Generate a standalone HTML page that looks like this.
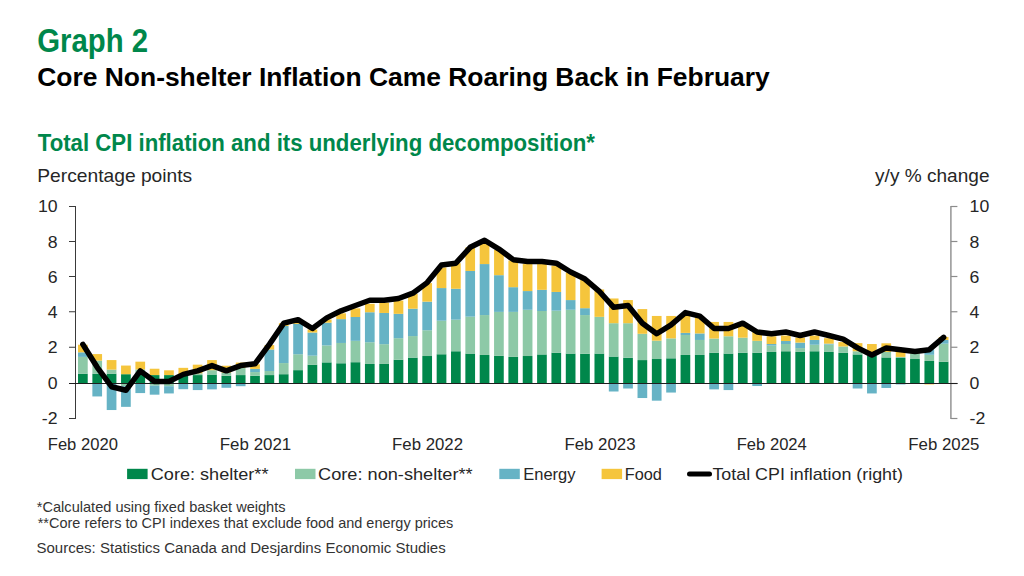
<!DOCTYPE html><html><head><meta charset="utf-8"><style>html,body{margin:0;padding:0;background:#fff;overflow:hidden}svg{display:block}text{font-family:"Liberation Sans",sans-serif}</style></head><body>
<svg width="1024" height="576" viewBox="0 0 1024 576">
<rect width="1024" height="576" fill="#fff"/>
<text x="37.3" y="51.8" font-size="33" fill="#00874b" font-weight="700" textLength="110.81" lengthAdjust="spacingAndGlyphs">Graph 2</text>
<text x="37.25" y="85.9" font-size="26.5" fill="#000" font-weight="700" textLength="732.48" lengthAdjust="spacingAndGlyphs">Core Non-shelter Inflation Came Roaring Back in February</text>
<text x="37.75" y="150.5" font-size="23" fill="#00874b" font-weight="700" textLength="557.19" lengthAdjust="spacingAndGlyphs">Total CPI inflation and its underlying decomposition*</text>
<text x="37.3" y="182.0" font-size="18.6" fill="#262626" textLength="154.92" lengthAdjust="spacingAndGlyphs">Percentage points</text>
<text x="875.1" y="182.0" font-size="18.9" fill="#262626" textLength="114.43" lengthAdjust="spacingAndGlyphs">y/y % change</text>
<rect x="78.02" y="373.67" width="9.7" height="9.53" fill="#00874b"/>
<rect x="78.02" y="356.90" width="9.7" height="16.77" fill="#8dc9a7"/>
<rect x="78.02" y="352.31" width="9.7" height="4.59" fill="#66b3c5"/>
<rect x="78.02" y="344.72" width="9.7" height="7.59" fill="#f5c53c"/>
<rect x="92.37" y="373.67" width="9.7" height="9.53" fill="#00874b"/>
<rect x="92.37" y="360.61" width="9.7" height="13.06" fill="#8dc9a7"/>
<rect x="92.37" y="383.20" width="9.7" height="13.24" fill="#66b3c5"/>
<rect x="92.37" y="354.08" width="9.7" height="6.53" fill="#f5c53c"/>
<rect x="106.72" y="373.67" width="9.7" height="9.53" fill="#00874b"/>
<rect x="106.72" y="369.61" width="9.7" height="4.06" fill="#8dc9a7"/>
<rect x="106.72" y="383.20" width="9.7" height="26.83" fill="#66b3c5"/>
<rect x="106.72" y="360.08" width="9.7" height="9.53" fill="#f5c53c"/>
<rect x="121.06" y="374.20" width="9.7" height="9.00" fill="#00874b"/>
<rect x="121.06" y="383.20" width="9.7" height="3.00" fill="#8dc9a7"/>
<rect x="121.06" y="386.20" width="9.7" height="20.65" fill="#66b3c5"/>
<rect x="121.06" y="365.55" width="9.7" height="8.65" fill="#f5c53c"/>
<rect x="135.41" y="374.38" width="9.7" height="8.82" fill="#00874b"/>
<rect x="135.41" y="369.43" width="9.7" height="4.94" fill="#8dc9a7"/>
<rect x="135.41" y="383.20" width="9.7" height="9.88" fill="#66b3c5"/>
<rect x="135.41" y="361.67" width="9.7" height="7.77" fill="#f5c53c"/>
<rect x="149.75" y="375.08" width="9.7" height="8.12" fill="#00874b"/>
<rect x="149.75" y="383.20" width="9.7" height="2.47" fill="#8dc9a7"/>
<rect x="149.75" y="385.67" width="9.7" height="9.00" fill="#66b3c5"/>
<rect x="149.75" y="368.73" width="9.7" height="6.35" fill="#f5c53c"/>
<rect x="164.10" y="375.08" width="9.7" height="8.12" fill="#00874b"/>
<rect x="164.10" y="383.20" width="9.7" height="3.00" fill="#8dc9a7"/>
<rect x="164.10" y="386.20" width="9.7" height="7.24" fill="#66b3c5"/>
<rect x="164.10" y="370.32" width="9.7" height="4.77" fill="#f5c53c"/>
<rect x="178.45" y="375.61" width="9.7" height="7.59" fill="#00874b"/>
<rect x="178.45" y="383.20" width="9.7" height="6.00" fill="#66b3c5"/>
<rect x="178.45" y="367.84" width="9.7" height="7.77" fill="#f5c53c"/>
<rect x="192.79" y="375.08" width="9.7" height="8.12" fill="#00874b"/>
<rect x="192.79" y="373.32" width="9.7" height="1.77" fill="#8dc9a7"/>
<rect x="192.79" y="383.20" width="9.7" height="6.88" fill="#66b3c5"/>
<rect x="192.79" y="364.67" width="9.7" height="8.65" fill="#f5c53c"/>
<rect x="207.14" y="374.55" width="9.7" height="8.65" fill="#00874b"/>
<rect x="207.14" y="370.14" width="9.7" height="4.41" fill="#8dc9a7"/>
<rect x="207.14" y="383.20" width="9.7" height="6.18" fill="#66b3c5"/>
<rect x="207.14" y="360.08" width="9.7" height="10.06" fill="#f5c53c"/>
<rect x="221.48" y="375.79" width="9.7" height="7.41" fill="#00874b"/>
<rect x="221.48" y="372.61" width="9.7" height="3.18" fill="#8dc9a7"/>
<rect x="221.48" y="383.20" width="9.7" height="4.59" fill="#66b3c5"/>
<rect x="221.48" y="365.73" width="9.7" height="6.88" fill="#f5c53c"/>
<rect x="235.83" y="375.08" width="9.7" height="8.12" fill="#00874b"/>
<rect x="235.83" y="368.02" width="9.7" height="7.06" fill="#8dc9a7"/>
<rect x="235.83" y="383.20" width="9.7" height="3.00" fill="#66b3c5"/>
<rect x="235.83" y="362.55" width="9.7" height="5.47" fill="#f5c53c"/>
<rect x="250.17" y="375.79" width="9.7" height="7.41" fill="#00874b"/>
<rect x="250.17" y="372.08" width="9.7" height="3.71" fill="#8dc9a7"/>
<rect x="250.17" y="368.90" width="9.7" height="3.18" fill="#66b3c5"/>
<rect x="250.17" y="364.31" width="9.7" height="4.59" fill="#f5c53c"/>
<rect x="264.52" y="375.08" width="9.7" height="8.12" fill="#00874b"/>
<rect x="264.52" y="371.02" width="9.7" height="4.06" fill="#8dc9a7"/>
<rect x="264.52" y="349.49" width="9.7" height="21.53" fill="#66b3c5"/>
<rect x="264.52" y="345.08" width="9.7" height="4.41" fill="#f5c53c"/>
<rect x="278.87" y="374.20" width="9.7" height="9.00" fill="#00874b"/>
<rect x="278.87" y="363.08" width="9.7" height="11.12" fill="#8dc9a7"/>
<rect x="278.87" y="326.01" width="9.7" height="37.06" fill="#66b3c5"/>
<rect x="278.87" y="323.19" width="9.7" height="2.82" fill="#f5c53c"/>
<rect x="293.21" y="370.14" width="9.7" height="13.06" fill="#00874b"/>
<rect x="293.21" y="354.25" width="9.7" height="15.89" fill="#8dc9a7"/>
<rect x="293.21" y="323.90" width="9.7" height="30.36" fill="#66b3c5"/>
<rect x="293.21" y="320.72" width="9.7" height="3.18" fill="#f5c53c"/>
<rect x="307.56" y="364.67" width="9.7" height="18.53" fill="#00874b"/>
<rect x="307.56" y="355.67" width="9.7" height="9.00" fill="#8dc9a7"/>
<rect x="307.56" y="332.54" width="9.7" height="23.12" fill="#66b3c5"/>
<rect x="307.56" y="329.54" width="9.7" height="3.00" fill="#f5c53c"/>
<rect x="321.90" y="362.37" width="9.7" height="20.83" fill="#00874b"/>
<rect x="321.90" y="345.43" width="9.7" height="16.94" fill="#8dc9a7"/>
<rect x="321.90" y="322.66" width="9.7" height="22.77" fill="#66b3c5"/>
<rect x="321.90" y="319.48" width="9.7" height="3.18" fill="#f5c53c"/>
<rect x="336.25" y="363.26" width="9.7" height="19.94" fill="#00874b"/>
<rect x="336.25" y="342.96" width="9.7" height="20.30" fill="#8dc9a7"/>
<rect x="336.25" y="319.13" width="9.7" height="23.83" fill="#66b3c5"/>
<rect x="336.25" y="313.31" width="9.7" height="5.82" fill="#f5c53c"/>
<rect x="350.60" y="362.20" width="9.7" height="21.00" fill="#00874b"/>
<rect x="350.60" y="340.84" width="9.7" height="21.36" fill="#8dc9a7"/>
<rect x="350.60" y="317.01" width="9.7" height="23.83" fill="#66b3c5"/>
<rect x="350.60" y="308.36" width="9.7" height="8.65" fill="#f5c53c"/>
<rect x="364.94" y="363.96" width="9.7" height="19.24" fill="#00874b"/>
<rect x="364.94" y="342.25" width="9.7" height="21.71" fill="#8dc9a7"/>
<rect x="364.94" y="312.25" width="9.7" height="30.01" fill="#66b3c5"/>
<rect x="364.94" y="303.77" width="9.7" height="8.47" fill="#f5c53c"/>
<rect x="379.29" y="363.96" width="9.7" height="19.24" fill="#00874b"/>
<rect x="379.29" y="344.19" width="9.7" height="19.77" fill="#8dc9a7"/>
<rect x="379.29" y="312.95" width="9.7" height="31.24" fill="#66b3c5"/>
<rect x="379.29" y="302.54" width="9.7" height="10.41" fill="#f5c53c"/>
<rect x="393.63" y="359.73" width="9.7" height="23.47" fill="#00874b"/>
<rect x="393.63" y="338.19" width="9.7" height="21.53" fill="#8dc9a7"/>
<rect x="393.63" y="313.84" width="9.7" height="24.36" fill="#66b3c5"/>
<rect x="393.63" y="300.60" width="9.7" height="13.24" fill="#f5c53c"/>
<rect x="407.98" y="357.61" width="9.7" height="25.59" fill="#00874b"/>
<rect x="407.98" y="336.07" width="9.7" height="21.53" fill="#8dc9a7"/>
<rect x="407.98" y="308.72" width="9.7" height="27.36" fill="#66b3c5"/>
<rect x="407.98" y="293.71" width="9.7" height="15.00" fill="#f5c53c"/>
<rect x="422.33" y="356.02" width="9.7" height="27.18" fill="#00874b"/>
<rect x="422.33" y="330.25" width="9.7" height="25.77" fill="#8dc9a7"/>
<rect x="422.33" y="301.66" width="9.7" height="28.59" fill="#66b3c5"/>
<rect x="422.33" y="283.12" width="9.7" height="18.53" fill="#f5c53c"/>
<rect x="436.67" y="354.25" width="9.7" height="28.95" fill="#00874b"/>
<rect x="436.67" y="320.72" width="9.7" height="33.54" fill="#8dc9a7"/>
<rect x="436.67" y="288.07" width="9.7" height="32.65" fill="#66b3c5"/>
<rect x="436.67" y="267.42" width="9.7" height="20.65" fill="#f5c53c"/>
<rect x="451.02" y="351.25" width="9.7" height="31.95" fill="#00874b"/>
<rect x="451.02" y="319.66" width="9.7" height="31.59" fill="#8dc9a7"/>
<rect x="451.02" y="288.77" width="9.7" height="30.89" fill="#66b3c5"/>
<rect x="451.02" y="263.18" width="9.7" height="25.59" fill="#f5c53c"/>
<rect x="465.36" y="353.55" width="9.7" height="29.65" fill="#00874b"/>
<rect x="465.36" y="316.66" width="9.7" height="36.89" fill="#8dc9a7"/>
<rect x="465.36" y="270.95" width="9.7" height="45.71" fill="#66b3c5"/>
<rect x="465.36" y="247.47" width="9.7" height="23.47" fill="#f5c53c"/>
<rect x="479.71" y="354.96" width="9.7" height="28.24" fill="#00874b"/>
<rect x="479.71" y="315.07" width="9.7" height="39.89" fill="#8dc9a7"/>
<rect x="479.71" y="264.06" width="9.7" height="51.01" fill="#66b3c5"/>
<rect x="479.71" y="242.88" width="9.7" height="21.18" fill="#f5c53c"/>
<rect x="494.06" y="355.84" width="9.7" height="27.36" fill="#00874b"/>
<rect x="494.06" y="311.89" width="9.7" height="43.95" fill="#8dc9a7"/>
<rect x="494.06" y="275.18" width="9.7" height="36.71" fill="#66b3c5"/>
<rect x="494.06" y="249.94" width="9.7" height="25.24" fill="#f5c53c"/>
<rect x="508.40" y="356.90" width="9.7" height="26.30" fill="#00874b"/>
<rect x="508.40" y="311.89" width="9.7" height="45.01" fill="#8dc9a7"/>
<rect x="508.40" y="287.18" width="9.7" height="24.71" fill="#66b3c5"/>
<rect x="508.40" y="260.53" width="9.7" height="26.65" fill="#f5c53c"/>
<rect x="522.75" y="356.02" width="9.7" height="27.18" fill="#00874b"/>
<rect x="522.75" y="309.78" width="9.7" height="46.24" fill="#8dc9a7"/>
<rect x="522.75" y="291.07" width="9.7" height="18.71" fill="#66b3c5"/>
<rect x="522.75" y="264.06" width="9.7" height="27.00" fill="#f5c53c"/>
<rect x="537.10" y="354.43" width="9.7" height="28.77" fill="#00874b"/>
<rect x="537.10" y="311.01" width="9.7" height="43.42" fill="#8dc9a7"/>
<rect x="537.10" y="289.83" width="9.7" height="21.18" fill="#66b3c5"/>
<rect x="537.10" y="264.06" width="9.7" height="25.77" fill="#f5c53c"/>
<rect x="551.44" y="352.67" width="9.7" height="30.53" fill="#00874b"/>
<rect x="551.44" y="310.66" width="9.7" height="42.01" fill="#8dc9a7"/>
<rect x="551.44" y="291.95" width="9.7" height="18.71" fill="#66b3c5"/>
<rect x="551.44" y="265.65" width="9.7" height="26.30" fill="#f5c53c"/>
<rect x="565.79" y="353.55" width="9.7" height="29.65" fill="#00874b"/>
<rect x="565.79" y="309.78" width="9.7" height="43.77" fill="#8dc9a7"/>
<rect x="565.79" y="300.07" width="9.7" height="9.71" fill="#66b3c5"/>
<rect x="565.79" y="272.53" width="9.7" height="27.53" fill="#f5c53c"/>
<rect x="580.13" y="353.72" width="9.7" height="29.48" fill="#00874b"/>
<rect x="580.13" y="315.07" width="9.7" height="38.65" fill="#8dc9a7"/>
<rect x="580.13" y="308.19" width="9.7" height="6.88" fill="#66b3c5"/>
<rect x="580.13" y="279.95" width="9.7" height="28.24" fill="#f5c53c"/>
<rect x="594.48" y="353.55" width="9.7" height="29.65" fill="#00874b"/>
<rect x="594.48" y="316.84" width="9.7" height="36.71" fill="#8dc9a7"/>
<rect x="594.48" y="289.48" width="9.7" height="27.36" fill="#f5c53c"/>
<rect x="608.83" y="356.55" width="9.7" height="26.65" fill="#00874b"/>
<rect x="608.83" y="323.19" width="9.7" height="33.36" fill="#8dc9a7"/>
<rect x="608.83" y="383.20" width="9.7" height="8.30" fill="#66b3c5"/>
<rect x="608.83" y="298.48" width="9.7" height="24.71" fill="#f5c53c"/>
<rect x="623.17" y="357.78" width="9.7" height="25.42" fill="#00874b"/>
<rect x="623.17" y="323.19" width="9.7" height="34.59" fill="#8dc9a7"/>
<rect x="623.17" y="383.20" width="9.7" height="5.30" fill="#66b3c5"/>
<rect x="623.17" y="300.07" width="9.7" height="23.12" fill="#f5c53c"/>
<rect x="637.52" y="360.08" width="9.7" height="23.12" fill="#00874b"/>
<rect x="637.52" y="333.78" width="9.7" height="26.30" fill="#8dc9a7"/>
<rect x="637.52" y="383.20" width="9.7" height="14.83" fill="#66b3c5"/>
<rect x="637.52" y="309.07" width="9.7" height="24.71" fill="#f5c53c"/>
<rect x="651.86" y="359.02" width="9.7" height="24.18" fill="#00874b"/>
<rect x="651.86" y="340.66" width="9.7" height="18.36" fill="#8dc9a7"/>
<rect x="651.86" y="383.20" width="9.7" height="17.47" fill="#66b3c5"/>
<rect x="651.86" y="315.95" width="9.7" height="24.71" fill="#f5c53c"/>
<rect x="666.21" y="358.31" width="9.7" height="24.89" fill="#00874b"/>
<rect x="666.21" y="338.37" width="9.7" height="19.94" fill="#8dc9a7"/>
<rect x="666.21" y="383.20" width="9.7" height="9.35" fill="#66b3c5"/>
<rect x="666.21" y="315.95" width="9.7" height="22.42" fill="#f5c53c"/>
<rect x="680.56" y="354.96" width="9.7" height="28.24" fill="#00874b"/>
<rect x="680.56" y="335.02" width="9.7" height="19.94" fill="#8dc9a7"/>
<rect x="680.56" y="332.90" width="9.7" height="2.12" fill="#66b3c5"/>
<rect x="680.56" y="315.07" width="9.7" height="17.83" fill="#f5c53c"/>
<rect x="694.90" y="354.96" width="9.7" height="28.24" fill="#00874b"/>
<rect x="694.90" y="339.96" width="9.7" height="15.00" fill="#8dc9a7"/>
<rect x="694.90" y="333.43" width="9.7" height="6.53" fill="#66b3c5"/>
<rect x="694.90" y="316.84" width="9.7" height="16.59" fill="#f5c53c"/>
<rect x="709.25" y="352.67" width="9.7" height="30.53" fill="#00874b"/>
<rect x="709.25" y="338.55" width="9.7" height="14.12" fill="#8dc9a7"/>
<rect x="709.25" y="383.20" width="9.7" height="6.18" fill="#66b3c5"/>
<rect x="709.25" y="321.95" width="9.7" height="16.59" fill="#f5c53c"/>
<rect x="723.59" y="353.55" width="9.7" height="29.65" fill="#00874b"/>
<rect x="723.59" y="336.25" width="9.7" height="17.30" fill="#8dc9a7"/>
<rect x="723.59" y="383.20" width="9.7" height="6.88" fill="#66b3c5"/>
<rect x="723.59" y="321.95" width="9.7" height="14.30" fill="#f5c53c"/>
<rect x="737.94" y="352.67" width="9.7" height="30.53" fill="#00874b"/>
<rect x="737.94" y="337.66" width="9.7" height="15.00" fill="#8dc9a7"/>
<rect x="737.94" y="324.95" width="9.7" height="12.71" fill="#f5c53c"/>
<rect x="752.29" y="352.67" width="9.7" height="30.53" fill="#00874b"/>
<rect x="752.29" y="340.84" width="9.7" height="11.83" fill="#8dc9a7"/>
<rect x="752.29" y="383.20" width="9.7" height="2.82" fill="#66b3c5"/>
<rect x="752.29" y="330.60" width="9.7" height="10.24" fill="#f5c53c"/>
<rect x="766.63" y="351.96" width="9.7" height="31.24" fill="#00874b"/>
<rect x="766.63" y="345.61" width="9.7" height="6.35" fill="#8dc9a7"/>
<rect x="766.63" y="344.02" width="9.7" height="1.59" fill="#66b3c5"/>
<rect x="766.63" y="336.25" width="9.7" height="7.77" fill="#f5c53c"/>
<rect x="780.98" y="351.25" width="9.7" height="31.95" fill="#00874b"/>
<rect x="780.98" y="344.02" width="9.7" height="7.24" fill="#8dc9a7"/>
<rect x="780.98" y="341.02" width="9.7" height="3.00" fill="#66b3c5"/>
<rect x="780.98" y="335.54" width="9.7" height="5.47" fill="#f5c53c"/>
<rect x="795.32" y="351.96" width="9.7" height="31.24" fill="#00874b"/>
<rect x="795.32" y="348.08" width="9.7" height="3.88" fill="#8dc9a7"/>
<rect x="795.32" y="342.61" width="9.7" height="5.47" fill="#66b3c5"/>
<rect x="795.32" y="337.66" width="9.7" height="4.94" fill="#f5c53c"/>
<rect x="809.67" y="351.25" width="9.7" height="31.95" fill="#00874b"/>
<rect x="809.67" y="344.72" width="9.7" height="6.53" fill="#8dc9a7"/>
<rect x="809.67" y="339.96" width="9.7" height="4.77" fill="#66b3c5"/>
<rect x="809.67" y="335.54" width="9.7" height="4.41" fill="#f5c53c"/>
<rect x="824.01" y="351.96" width="9.7" height="31.24" fill="#00874b"/>
<rect x="824.01" y="344.55" width="9.7" height="7.41" fill="#8dc9a7"/>
<rect x="824.01" y="343.66" width="9.7" height="0.88" fill="#66b3c5"/>
<rect x="824.01" y="338.19" width="9.7" height="5.47" fill="#f5c53c"/>
<rect x="838.36" y="352.84" width="9.7" height="30.36" fill="#00874b"/>
<rect x="838.36" y="346.49" width="9.7" height="6.35" fill="#8dc9a7"/>
<rect x="838.36" y="342.08" width="9.7" height="4.41" fill="#f5c53c"/>
<rect x="852.71" y="354.43" width="9.7" height="28.77" fill="#00874b"/>
<rect x="852.71" y="351.25" width="9.7" height="3.18" fill="#8dc9a7"/>
<rect x="852.71" y="383.20" width="9.7" height="5.30" fill="#66b3c5"/>
<rect x="852.71" y="343.13" width="9.7" height="8.12" fill="#f5c53c"/>
<rect x="867.05" y="355.49" width="9.7" height="27.71" fill="#00874b"/>
<rect x="867.05" y="352.84" width="9.7" height="2.65" fill="#8dc9a7"/>
<rect x="867.05" y="383.20" width="9.7" height="10.24" fill="#66b3c5"/>
<rect x="867.05" y="344.02" width="9.7" height="8.82" fill="#f5c53c"/>
<rect x="881.40" y="357.43" width="9.7" height="25.77" fill="#00874b"/>
<rect x="881.40" y="351.96" width="9.7" height="5.47" fill="#8dc9a7"/>
<rect x="881.40" y="383.20" width="9.7" height="4.77" fill="#66b3c5"/>
<rect x="881.40" y="343.31" width="9.7" height="8.65" fill="#f5c53c"/>
<rect x="895.75" y="357.96" width="9.7" height="25.24" fill="#00874b"/>
<rect x="895.75" y="356.90" width="9.7" height="1.06" fill="#8dc9a7"/>
<rect x="895.75" y="383.20" width="9.7" height="1.24" fill="#66b3c5"/>
<rect x="895.75" y="348.08" width="9.7" height="8.82" fill="#f5c53c"/>
<rect x="910.09" y="359.02" width="9.7" height="24.18" fill="#00874b"/>
<rect x="910.09" y="353.19" width="9.7" height="5.82" fill="#8dc9a7"/>
<rect x="910.09" y="351.43" width="9.7" height="1.76" fill="#f5c53c"/>
<rect x="924.44" y="360.96" width="9.7" height="22.24" fill="#00874b"/>
<rect x="924.44" y="354.78" width="9.7" height="6.18" fill="#8dc9a7"/>
<rect x="924.44" y="349.49" width="9.7" height="5.30" fill="#66b3c5"/>
<rect x="924.44" y="383.20" width="9.7" height="1.24" fill="#f5c53c"/>
<rect x="938.78" y="361.67" width="9.7" height="21.53" fill="#00874b"/>
<rect x="938.78" y="343.66" width="9.7" height="18.00" fill="#8dc9a7"/>
<rect x="938.78" y="339.96" width="9.7" height="3.71" fill="#66b3c5"/>
<rect x="938.78" y="336.96" width="9.7" height="3.00" fill="#f5c53c"/>
<line x1="75.5" y1="206" x2="75.5" y2="419" stroke="#3a3a3a" stroke-width="1"/>
<line x1="950.9" y1="206" x2="950.9" y2="419" stroke="#8c8c8c" stroke-width="1.4"/>
<line x1="69" y1="418.5" x2="75.5" y2="418.5" stroke="#3a3a3a" stroke-width="1"/>
<line x1="950.9" y1="418.5" x2="957.4" y2="418.5" stroke="#8c8c8c" stroke-width="1.2"/>
<text transform="translate(57.6,424.00) scale(1.06,1)" font-size="16.7" fill="#262626" text-anchor="end">-2</text>
<text transform="translate(969.6,424.00) scale(1.06,1)" font-size="16.7" fill="#262626">-2</text>
<line x1="69" y1="383.5" x2="75.5" y2="383.5" stroke="#3a3a3a" stroke-width="1"/>
<line x1="950.9" y1="383.5" x2="957.4" y2="383.5" stroke="#8c8c8c" stroke-width="1.2"/>
<text transform="translate(57.6,388.70) scale(1.06,1)" font-size="16.7" fill="#262626" text-anchor="end">0</text>
<text transform="translate(969.6,388.70) scale(1.06,1)" font-size="16.7" fill="#262626">0</text>
<line x1="69" y1="347.25" x2="75.5" y2="347.25" stroke="#3a3a3a" stroke-width="1"/>
<line x1="950.9" y1="347.25" x2="957.4" y2="347.25" stroke="#8c8c8c" stroke-width="1.2"/>
<text transform="translate(57.6,353.40) scale(1.06,1)" font-size="16.7" fill="#262626" text-anchor="end">2</text>
<text transform="translate(969.6,353.40) scale(1.06,1)" font-size="16.7" fill="#262626">2</text>
<line x1="69" y1="311.75" x2="75.5" y2="311.75" stroke="#3a3a3a" stroke-width="1"/>
<line x1="950.9" y1="311.75" x2="957.4" y2="311.75" stroke="#8c8c8c" stroke-width="1.2"/>
<text transform="translate(57.6,318.10) scale(1.06,1)" font-size="16.7" fill="#262626" text-anchor="end">4</text>
<text transform="translate(969.6,318.10) scale(1.06,1)" font-size="16.7" fill="#262626">4</text>
<line x1="69" y1="276.5" x2="75.5" y2="276.5" stroke="#3a3a3a" stroke-width="1"/>
<line x1="950.9" y1="276.5" x2="957.4" y2="276.5" stroke="#8c8c8c" stroke-width="1.2"/>
<text transform="translate(57.6,282.80) scale(1.06,1)" font-size="16.7" fill="#262626" text-anchor="end">6</text>
<text transform="translate(969.6,282.80) scale(1.06,1)" font-size="16.7" fill="#262626">6</text>
<line x1="69" y1="241.5" x2="75.5" y2="241.5" stroke="#3a3a3a" stroke-width="1"/>
<line x1="950.9" y1="241.5" x2="957.4" y2="241.5" stroke="#8c8c8c" stroke-width="1.2"/>
<text transform="translate(57.6,247.50) scale(1.06,1)" font-size="16.7" fill="#262626" text-anchor="end">8</text>
<text transform="translate(969.6,247.50) scale(1.06,1)" font-size="16.7" fill="#262626">8</text>
<line x1="69" y1="206.5" x2="75.5" y2="206.5" stroke="#3a3a3a" stroke-width="1"/>
<line x1="950.9" y1="206.5" x2="957.4" y2="206.5" stroke="#8c8c8c" stroke-width="1.2"/>
<text transform="translate(57.6,212.20) scale(1.06,1)" font-size="16.7" fill="#262626" text-anchor="end">10</text>
<text transform="translate(969.6,212.20) scale(1.06,1)" font-size="16.7" fill="#262626">10</text>
<line x1="69" y1="383.5" x2="957.6" y2="383.5" stroke="#1e1e1e" stroke-width="1"/>
<polyline points="82.87,344.37 97.22,367.31 111.56,386.73 125.91,390.26 140.26,370.84 154.60,381.44 168.95,381.44 183.30,374.38 197.64,370.84 211.99,365.55 226.33,370.84 240.68,365.55 255.02,363.78 269.37,344.37 283.72,323.19 298.06,319.66 312.41,328.49 326.75,317.89 341.10,310.83 355.45,305.54 369.79,300.25 384.14,300.25 398.49,298.48 412.83,293.19 427.18,282.60 441.52,264.94 455.87,263.18 470.21,247.29 484.56,240.24 498.91,249.06 513.25,259.65 527.60,261.41 541.95,261.41 556.29,263.18 570.64,272.00 584.98,279.06 599.33,291.42 613.68,307.31 628.02,305.54 642.37,323.19 656.71,333.78 671.06,324.95 685.41,312.60 699.75,316.13 714.10,328.49 728.44,328.49 742.79,323.19 757.14,332.01 771.48,333.78 785.83,332.01 800.17,335.54 814.52,332.01 828.87,335.54 843.21,339.07 857.56,347.90 871.90,354.96 886.25,347.90 900.60,349.66 914.94,351.43 929.29,349.66 943.63,337.31" fill="none" stroke="#000" stroke-width="5.5" stroke-linejoin="round" stroke-linecap="round"/>
<text x="47.75" y="449.5" font-size="16.6" fill="#262626" textLength="70.14" lengthAdjust="spacingAndGlyphs">Feb 2020</text>
<text x="219.8" y="449.5" font-size="16.6" fill="#262626" textLength="71.45" lengthAdjust="spacingAndGlyphs">Feb 2021</text>
<text x="392.1" y="449.5" font-size="16.6" fill="#262626" textLength="70.94" lengthAdjust="spacingAndGlyphs">Feb 2022</text>
<text x="564.4" y="449.5" font-size="16.6" fill="#262626" textLength="71.14" lengthAdjust="spacingAndGlyphs">Feb 2023</text>
<text x="736.7" y="449.5" font-size="16.6" fill="#262626" textLength="70.14" lengthAdjust="spacingAndGlyphs">Feb 2024</text>
<text x="908.3" y="449.5" font-size="16.6" fill="#262626" textLength="71.14" lengthAdjust="spacingAndGlyphs">Feb 2025</text>
<rect x="127.1" y="468.8" width="20.5" height="10.3" fill="#00874b"/>
<rect x="295.0" y="468.8" width="20.5" height="10.3" fill="#8dc9a7"/>
<rect x="499.3" y="468.8" width="20.5" height="10.3" fill="#66b3c5"/>
<rect x="601.6" y="468.8" width="20.5" height="10.3" fill="#f5c53c"/>
<line x1="689.5" y1="474" x2="709.5" y2="474" stroke="#000" stroke-width="5" stroke-linecap="round"/>
<text x="150.75" y="479.6" font-size="16.6" fill="#262626" textLength="117.71" lengthAdjust="spacingAndGlyphs">Core: shelter**</text>
<text x="318.0" y="479.6" font-size="16.6" fill="#262626" textLength="154.64" lengthAdjust="spacingAndGlyphs">Core: non-shelter**</text>
<text x="523.25" y="479.6" font-size="16.6" fill="#262626" textLength="52.28" lengthAdjust="spacingAndGlyphs">Energy</text>
<text x="624.75" y="479.6" font-size="16.6" fill="#262626" textLength="37.12" lengthAdjust="spacingAndGlyphs">Food</text>
<text x="712.4" y="479.6" font-size="16.6" fill="#262626" textLength="190.56" lengthAdjust="spacingAndGlyphs">Total CPI inflation (right)</text>
<text x="36.8" y="511.7" font-size="15" fill="#333333" textLength="248.76" lengthAdjust="spacingAndGlyphs">*Calculated using fixed basket weights</text>
<text x="37.7" y="527.8" font-size="15" fill="#333333" textLength="415.64" lengthAdjust="spacingAndGlyphs">**Core refers to CPI indexes that exclude food and energy prices</text>
<text x="36.5" y="552.8" font-size="15.5" fill="#333333" textLength="409.15" lengthAdjust="spacingAndGlyphs">Sources: Statistics Canada and Desjardins Economic Studies</text>
</svg></body></html>
